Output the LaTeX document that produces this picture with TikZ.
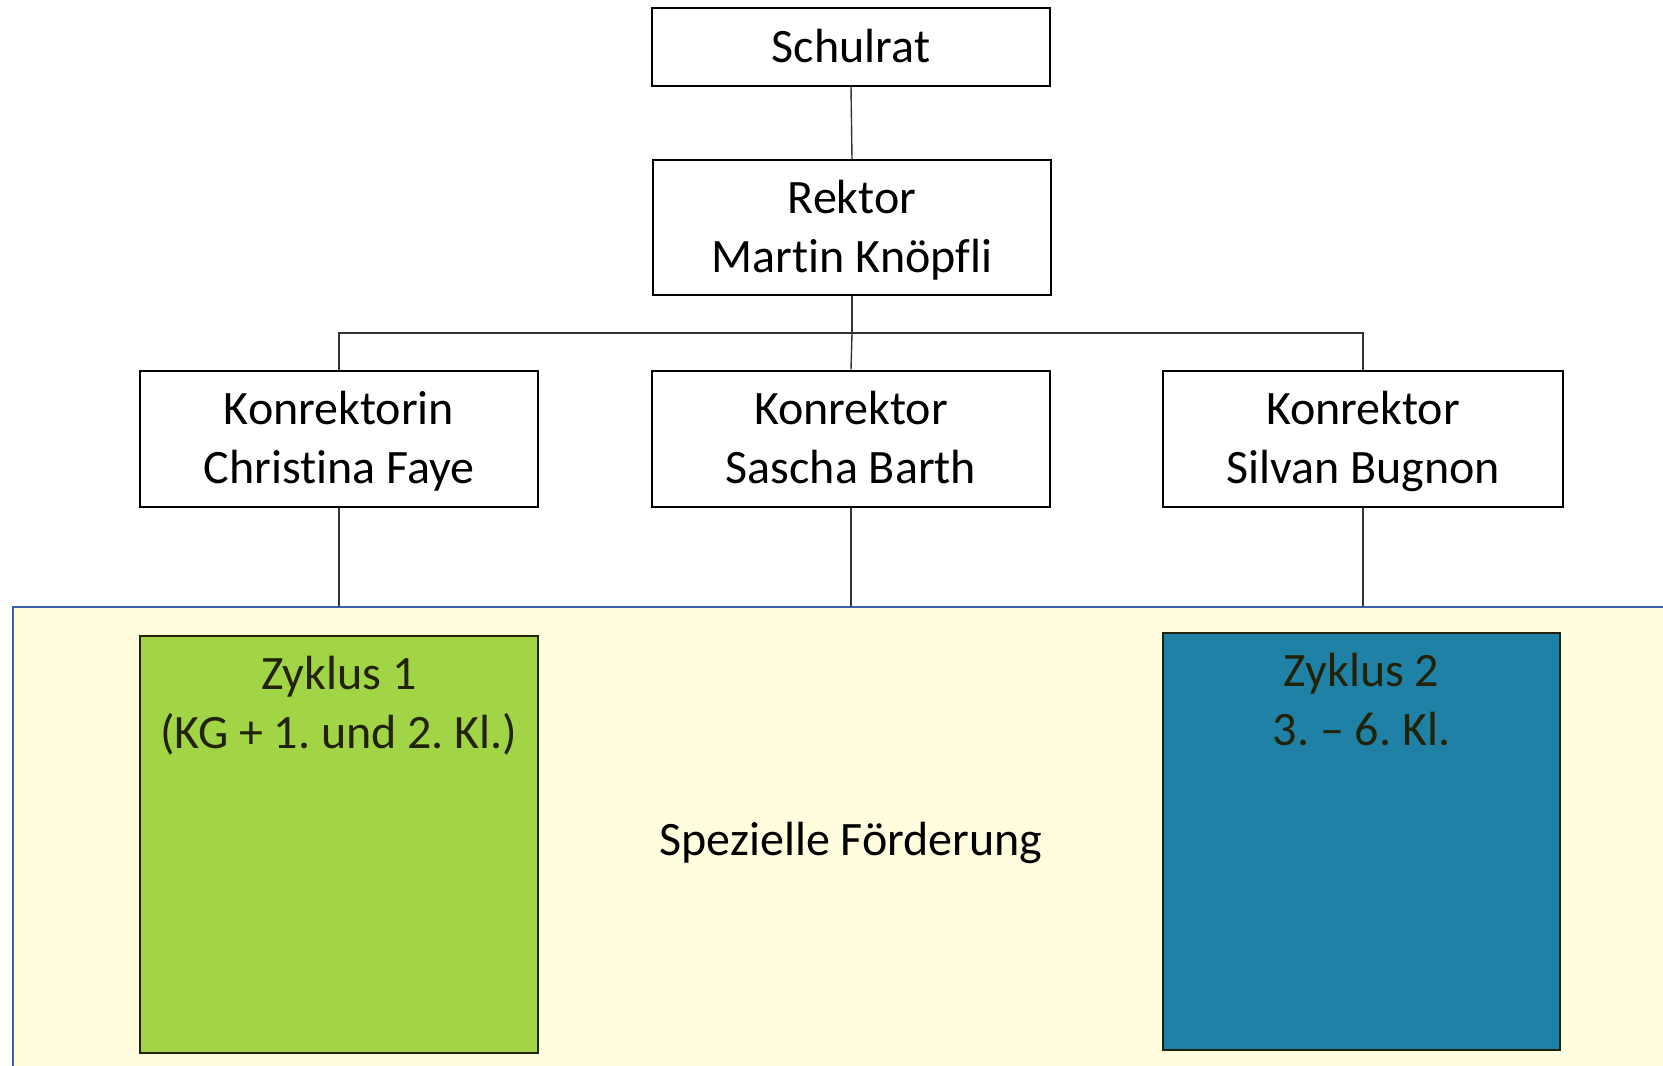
\documentclass[tikz,border=0pt]{standalone}
\usepackage{fontspec}
\setmainfont[Ligatures=NoCommon]{Carlito}
\frenchspacing
\definecolor{zgreen}{RGB}{161,213,69}
\definecolor{zblue}{RGB}{32,129,166}
\definecolor{fyellow}{RGB}{255,253,222}
\definecolor{fborder}{RGB}{59,96,166}
\definecolor{ztext}{RGB}{34,34,8}
\begin{document}
\begin{tikzpicture}[x=0.5pt,y=-0.5pt,
  orgbox/.style={draw=black,line width=1pt,fill=white,inner sep=0pt,minimum width=199pt,minimum height=68pt},
  txt/.style={font=\fontsize{24}{29.3}\selectfont\frenchspacing,align=center,anchor=base,inner sep=0pt},
  conn/.style={draw=black!80,line width=0.7pt},
  zbox/.style={draw=ztext,line width=1pt,inner sep=0pt,minimum width=199pt,minimum height=208.5pt}]
\useasboundingbox (0,0) rectangle (1663,1065);
\clip (0,0) rectangle (1663,1065);
% Spezielle Foerderung area
\node[draw=fborder,line width=1.2pt,fill=fyellow,inner sep=0pt,minimum width=838pt,minimum height=248pt] (foerd) at (851,855) {};
\node[txt] (foerdt) at (851,855) {Spezielle Förderung};
% top boxes
\node[orgbox,minimum height=39pt] (schulrat) at (851,47) {};
\node[txt] (schulratt) at (851,63) {Schulrat};
\node[orgbox,minimum height=67.5pt] (rektor) at (852,227.5) {};
\node[txt] (rektort) at (852,272) {Rektor\\Martin Knöpfli};
\node[orgbox] (k1) at (339,438.5) {};
\node[txt] (k1t) at (339,483) {Konrektorin\\Christina Faye};
\node[orgbox] (k2) at (851,438.5) {};
\node[txt] (k2t) at (851,483) {Konrektor\\Sascha Barth};
\node[orgbox,minimum width=200pt] (k3) at (1363,438.5) {};
\node[txt] (k3t) at (1363,483) {Konrektor\\Silvan Bugnon};
% Zyklus boxes
\node[zbox,fill=zgreen] (z1) at (339,844.5) {};
\node[txt,text=ztext] (z1t) at (339,748) {Zyklus 1\\(KG + 1. und 2. Kl.)};
\node[zbox,fill=zblue,minimum width=198.5pt] (z2) at (1361.5,841.5) {};
\node[txt,text=ztext] (z2t) at (1361.5,745) {Zyklus 2\\3. – 6. Kl.};
% connectors
\coordinate (bus) at (852,333);
\draw[conn] (schulrat.south) -- (rektor.north);
\draw[conn] (rektor.south) -- (bus);
\draw[conn] (k1.north) |- (bus) -| (k3.north);
\draw[conn] (bus) -- (k2.north);
\draw[conn] (k1.south) -- (k1.south |- foerd.north);
\draw[conn] (k2.south) -- (k2.south |- foerd.north);
\draw[conn] (k3.south) -- (k3.south |- foerd.north);
\end{tikzpicture}
\end{document}
